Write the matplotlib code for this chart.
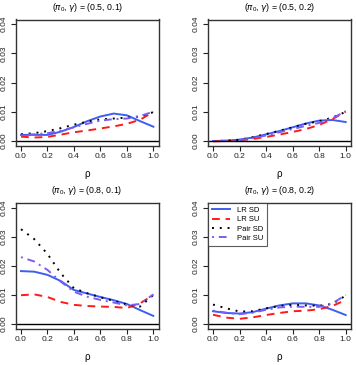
import matplotlib
matplotlib.use("Agg")
import matplotlib.pyplot as plt
import numpy as np

plt.rcParams['font.family'] = ['Liberation Sans', 'DejaVu Sans']
plt.rcParams['mathtext.fontset'] = 'custom'
plt.rcParams['mathtext.rm'] = 'Liberation Sans'
plt.rcParams['mathtext.it'] = 'DejaVu Sans:italic'

rho = [0.0, 0.1, 0.2, 0.3, 0.4, 0.5, 0.6, 0.7, 0.8, 0.9, 1.0]

titles = [r"($\pi_0$, $\gamma$) = (0.5, 0.1)", r"($\pi_0$, $\gamma$) = (0.5, 0.2)",
          r"($\pi_0$, $\gamma$) = (0.8, 0.1)", r"($\pi_0$, $\gamma$) = (0.8, 0.2)"]

# panel 1: (0.5, 0.1)
p1_lr_sd = [0.0021, 0.0021, 0.0021, 0.0032, 0.0048, 0.0068, 0.0084, 0.0094, 0.0088, 0.0068, 0.0049]
p1_lr_su = [0.0015, 0.0012, 0.0014, 0.0022, 0.0030, 0.0036, 0.0043, 0.0050, 0.0059, 0.0073, 0.0100]
p1_pair_sd = [0.0023, 0.0027, 0.0034, 0.0044, 0.0056, 0.0066, 0.0074, 0.0077, 0.0080, 0.0084, 0.0099]
p1_pair_su = [0.0020, 0.0023, 0.0027, 0.0035, 0.0047, 0.0059, 0.0070, 0.0075, 0.0077, 0.0085, 0.0101]

# panel 2: (0.5, 0.2)
p2_lr_sd = [0.0000, 0.0001, 0.0005, 0.0012, 0.0023, 0.0034, 0.0047, 0.0060, 0.0070, 0.0072, 0.0065]
p2_lr_su = [-0.0001, 0.0000, 0.0002, 0.0007, 0.0014, 0.0022, 0.0031, 0.0041, 0.0055, 0.0075, 0.0101]
p2_pair_sd = [0.0000, 0.0001, 0.0004, 0.0013, 0.0024, 0.0035, 0.0047, 0.0059, 0.0068, 0.0080, 0.0100]
p2_pair_su = [0.0000, 0.0001, 0.0003, 0.0010, 0.0019, 0.0030, 0.0041, 0.0052, 0.0062, 0.0078, 0.0102]

# panel 3: (0.8, 0.1)
p3_lr_sd = [0.0182, 0.0180, 0.0169, 0.0148, 0.0117, 0.0105, 0.0093, 0.0082, 0.0069, 0.0048, 0.0028]
p3_lr_su = [0.0099, 0.0102, 0.0093, 0.0076, 0.0066, 0.0062, 0.0060, 0.0059, 0.0055, 0.0071, 0.0100]
p3_pair_sd = [0.0326, 0.0292, 0.0241, 0.0175, 0.0123, 0.0106, 0.0092, 0.0080, 0.0067, 0.0060, 0.0100]
p3_pair_su = [0.0230, 0.0215, 0.0186, 0.0146, 0.0111, 0.0094, 0.0083, 0.0074, 0.0064, 0.0069, 0.0102]

# panel 4: (0.8, 0.2)
p4_lr_sd = [0.0044, 0.0038, 0.0036, 0.0041, 0.0053, 0.0064, 0.0071, 0.0071, 0.0064, 0.0049, 0.0031]
p4_lr_su = [0.0032, 0.0022, 0.0018, 0.0023, 0.0031, 0.0038, 0.0044, 0.0046, 0.0051, 0.0062, 0.0083]
p4_pair_sd = [0.0067, 0.0054, 0.0043, 0.0044, 0.0054, 0.0062, 0.0066, 0.0064, 0.0063, 0.0069, 0.0098]
p4_pair_su = [0.0046, 0.0039, 0.0034, 0.0039, 0.0049, 0.0057, 0.0060, 0.0059, 0.0059, 0.0071, 0.0100]

panels = [
    (p1_lr_sd, p1_lr_su, p1_pair_sd, p1_pair_su),
    (p2_lr_sd, p2_lr_su, p2_pair_sd, p2_pair_su),
    (p3_lr_sd, p3_lr_su, p3_pair_sd, p3_pair_su),
    (p4_lr_sd, p4_lr_su, p4_pair_sd, p4_pair_su),
]

series_names = ["LR SD", "LR SU", "Pair SD", "Pair SU"]
styles = [
    dict(color='#3d5ef0', linestyle='-', linewidth=1.4),
    dict(color='#ff1a1a', linestyle=(0, (4, 3)), linewidth=1.4),
    dict(color='black', linestyle=(0, (1, 3)), linewidth=1.4),
    dict(color='#7b5cf5', linestyle=(0, (1, 2.5, 4, 2.5)), linewidth=1.4),
]

W, H = 356, 365
fig = plt.figure(figsize=(W / 100, H / 100), dpi=100)

# pixel boxes: left, top, right, bottom
boxes = [
    (15.7, 19.5, 158.7, 145.7),
    (207.7, 19.5, 351.0, 145.7),
    (15.7, 203.0, 158.6, 328.7),
    (207.7, 203.0, 351.0, 328.7),
]

for i, (box, data, title) in enumerate(zip(boxes, panels, titles)):
    l, t, r, b = box
    ax = fig.add_axes([l / W, 1 - b / H, (r - l) / W, (b - t) / H])
    for vals, name, st in zip(data, series_names, styles):
        ax.plot(rho, vals, label=name, **st)
    ax.axhline(0, color='black', linewidth=1.0)
    ax.set_xlim(-0.04, 1.04)
    ax.set_ylim(-0.0016, 0.0416)
    ax.set_xticks([0.0, 0.2, 0.4, 0.6, 0.8, 1.0])
    ax.set_xticklabels(["0.0", "0.2", "0.4", "0.6", "0.8", "1.0"])
    ax.set_yticks([0.0, 0.01, 0.02, 0.03, 0.04])
    ax.set_yticklabels(["0.00", "0.01", "0.02", "0.03", "0.04"], rotation=90, va='center')
    ax.tick_params(axis='both', labelsize=6, length=3.5, width=0.8, pad=2, colors='#222222')
    for s in ax.spines.values():
        s.set_color('#333333')
        s.set_linewidth(1.0)
    ax.set_title(title, fontsize=6.3, pad=7)
    ax.set_xlabel("ρ", fontsize=7, labelpad=6)
    if i == 3:
        leg = ax.legend(loc='upper left', fontsize=5.5, frameon=True, fancybox=False,
                        borderaxespad=0, handlelength=2.4, borderpad=0.5,
                        labelspacing=0.25, handletextpad=0.9)
        leg.get_frame().set_edgecolor('#333333')
        leg.get_frame().set_linewidth(0.8)

fig.savefig("out.png", dpi=100)
